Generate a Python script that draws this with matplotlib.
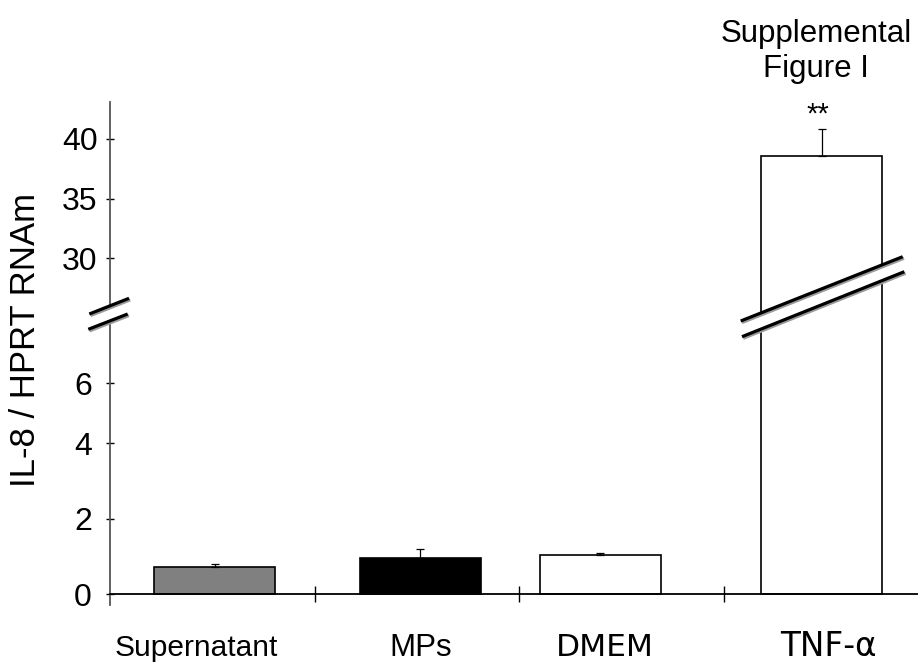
import numpy as np
import matplotlib
matplotlib.use("Agg")
import matplotlib.pyplot as plt
from matplotlib.patches import Polygon
from matplotlib.lines import Line2D

# ---- data ----
categories = ["Supernatant", "MPs", "DMEM", "TNF-\u03b1"]
values = [0.72, 0.96, 1.04, 38.6]
errors = [0.08, 0.23, 0.06, 2.2]
colors = ["#808080", "#000000", "#ffffff", "#ffffff"]
y_ticks = [0, 2, 4, 6, 30, 35, 40]

# ---- layout ----
bar_pos = [0.011, 1.017, 1.896, 2.979]
label_pos = [-0.076, 1.02, 1.919, 3.01]
label_fonts = ["Liberation Sans", "Liberation Sans", "DejaVu Sans", "DejaVu Sans"]
label_sizes = [21.5, 22.5, 22.5, 23.5]
bar_width = 0.592

W, H = 918, 662
fig = plt.figure(figsize=(W / 100, H / 100), dpi=100)
plt.rcParams["font.family"] = ["Liberation Sans", "DejaVu Sans"]

ax_left, ax_right, ax_top, ax_bot = 110, 918, 102, 605
ax = fig.add_axes([ax_left / W, 1 - ax_bot / H, (ax_right - ax_left) / W, (ax_bot - ax_top) / H])

# broken y scale: piecewise linear, compressed between the two ranges
knots_v = np.array([-5, 0, 4, 6, 7.5, 26.5, 60.0])
knots_p = np.array([-188.75, 0, 151, 211, 256, 294, 294 + 33.5 * 11.9])


def fwd(v):
    return np.interp(v, knots_v, knots_p)


def inv(p):
    return np.interp(p, knots_p, knots_v)


ax.set_yscale("function", functions=(fwd, inv))
ax.set_ylim(-0.28, 43.1)
ax.set_xlim(-0.5, 3.45)

ax.bar(bar_pos, values, width=bar_width, color=colors, edgecolor="black",
       linewidth=1.2, zorder=2)
ax.errorbar(bar_pos, values, yerr=[np.zeros(len(errors)), errors], fmt="none",
            ecolor="black", elinewidth=0.9, capsize=3, capthick=0.9, zorder=3)

# spines
for s in ("top", "right"):
    ax.spines[s].set_visible(False)
ax.spines["left"].set_color("#555555")
ax.spines["left"].set_linewidth(1.3)
ax.spines["bottom"].set_position(("data", 0))
ax.spines["bottom"].set_linewidth(1.3)

ax.set_yticks(y_ticks)
ax.set_yticklabels([str(t) for t in y_ticks])
ax.tick_params(axis="y", direction="inout", length=6, width=1, labelsize=23, color="black")
for t, tk in zip(y_ticks, ax.yaxis.get_major_ticks()):
    tk.set_pad(6 if t >= 30 else 10)

ax.set_xticks([0.5, 1.5, 2.5])
ax.set_xticklabels([])
ax.tick_params(axis="x", direction="inout", length=12, width=1, color="black")

# category labels
xt = ax.get_xaxis_transform()
for xp, lab, fam, fs in zip(label_pos, categories, label_fonts, label_sizes):
    ax.text(xp, -0.101, lab, transform=xt, ha="center", va="baseline",
            fontsize=fs, family=[fam, "DejaVu Sans"], clip_on=False)

# significance mark
ax.text(bar_pos[3] - 0.02, values[3] + errors[3] + 0.05, "**", ha="center", va="bottom",
        fontsize=21)

fig.text(26 / W, 1 - 340 / H, "IL-8 / HPRT RNAm", rotation=90, ha="center",
         va="center", fontsize=25)

fig.text(816 / W, 1 - 19 / H, "Supplemental\nFigure I", ha="center", va="top",
         fontsize=22.5, linespacing=1.22)


# axis-break marks
def fp(x, y):
    return (x / W, 1 - y / H)


def break_mark(p1a, p1b, p2a, p2b):
    poly = Polygon([fp(*p1a), fp(*p1b), fp(*p2b), fp(*p2a)], closed=True,
                   transform=fig.transFigure, facecolor="white", edgecolor="none",
                   zorder=10)
    fig.add_artist(poly)
    for a, b in ((p1a, p1b), (p2a, p2b)):
        sh = Line2D([fp(*a)[0] + 1.2 / W, fp(*b)[0] + 1.2 / W],
                    [fp(*a)[1] - 1.5 / H, fp(*b)[1] - 1.5 / H],
                    transform=fig.transFigure, color="#9a9a9a", linewidth=2.4,
                    zorder=11, solid_capstyle="butt")
        fig.add_artist(sh)
        ln = Line2D([fp(*a)[0], fp(*b)[0]], [fp(*a)[1], fp(*b)[1]],
                    transform=fig.transFigure, color="black", linewidth=2.3,
                    zorder=12, solid_capstyle="butt")
        fig.add_artist(ln)


break_mark((89.3, 314), (129, 298.3), (88.3, 329.3), (127.7, 314))
break_mark((740.7, 321), (902.7, 256.7), (742, 336.7), (904.3, 271.7))

fig.savefig("out.png", dpi=100, facecolor="white")
